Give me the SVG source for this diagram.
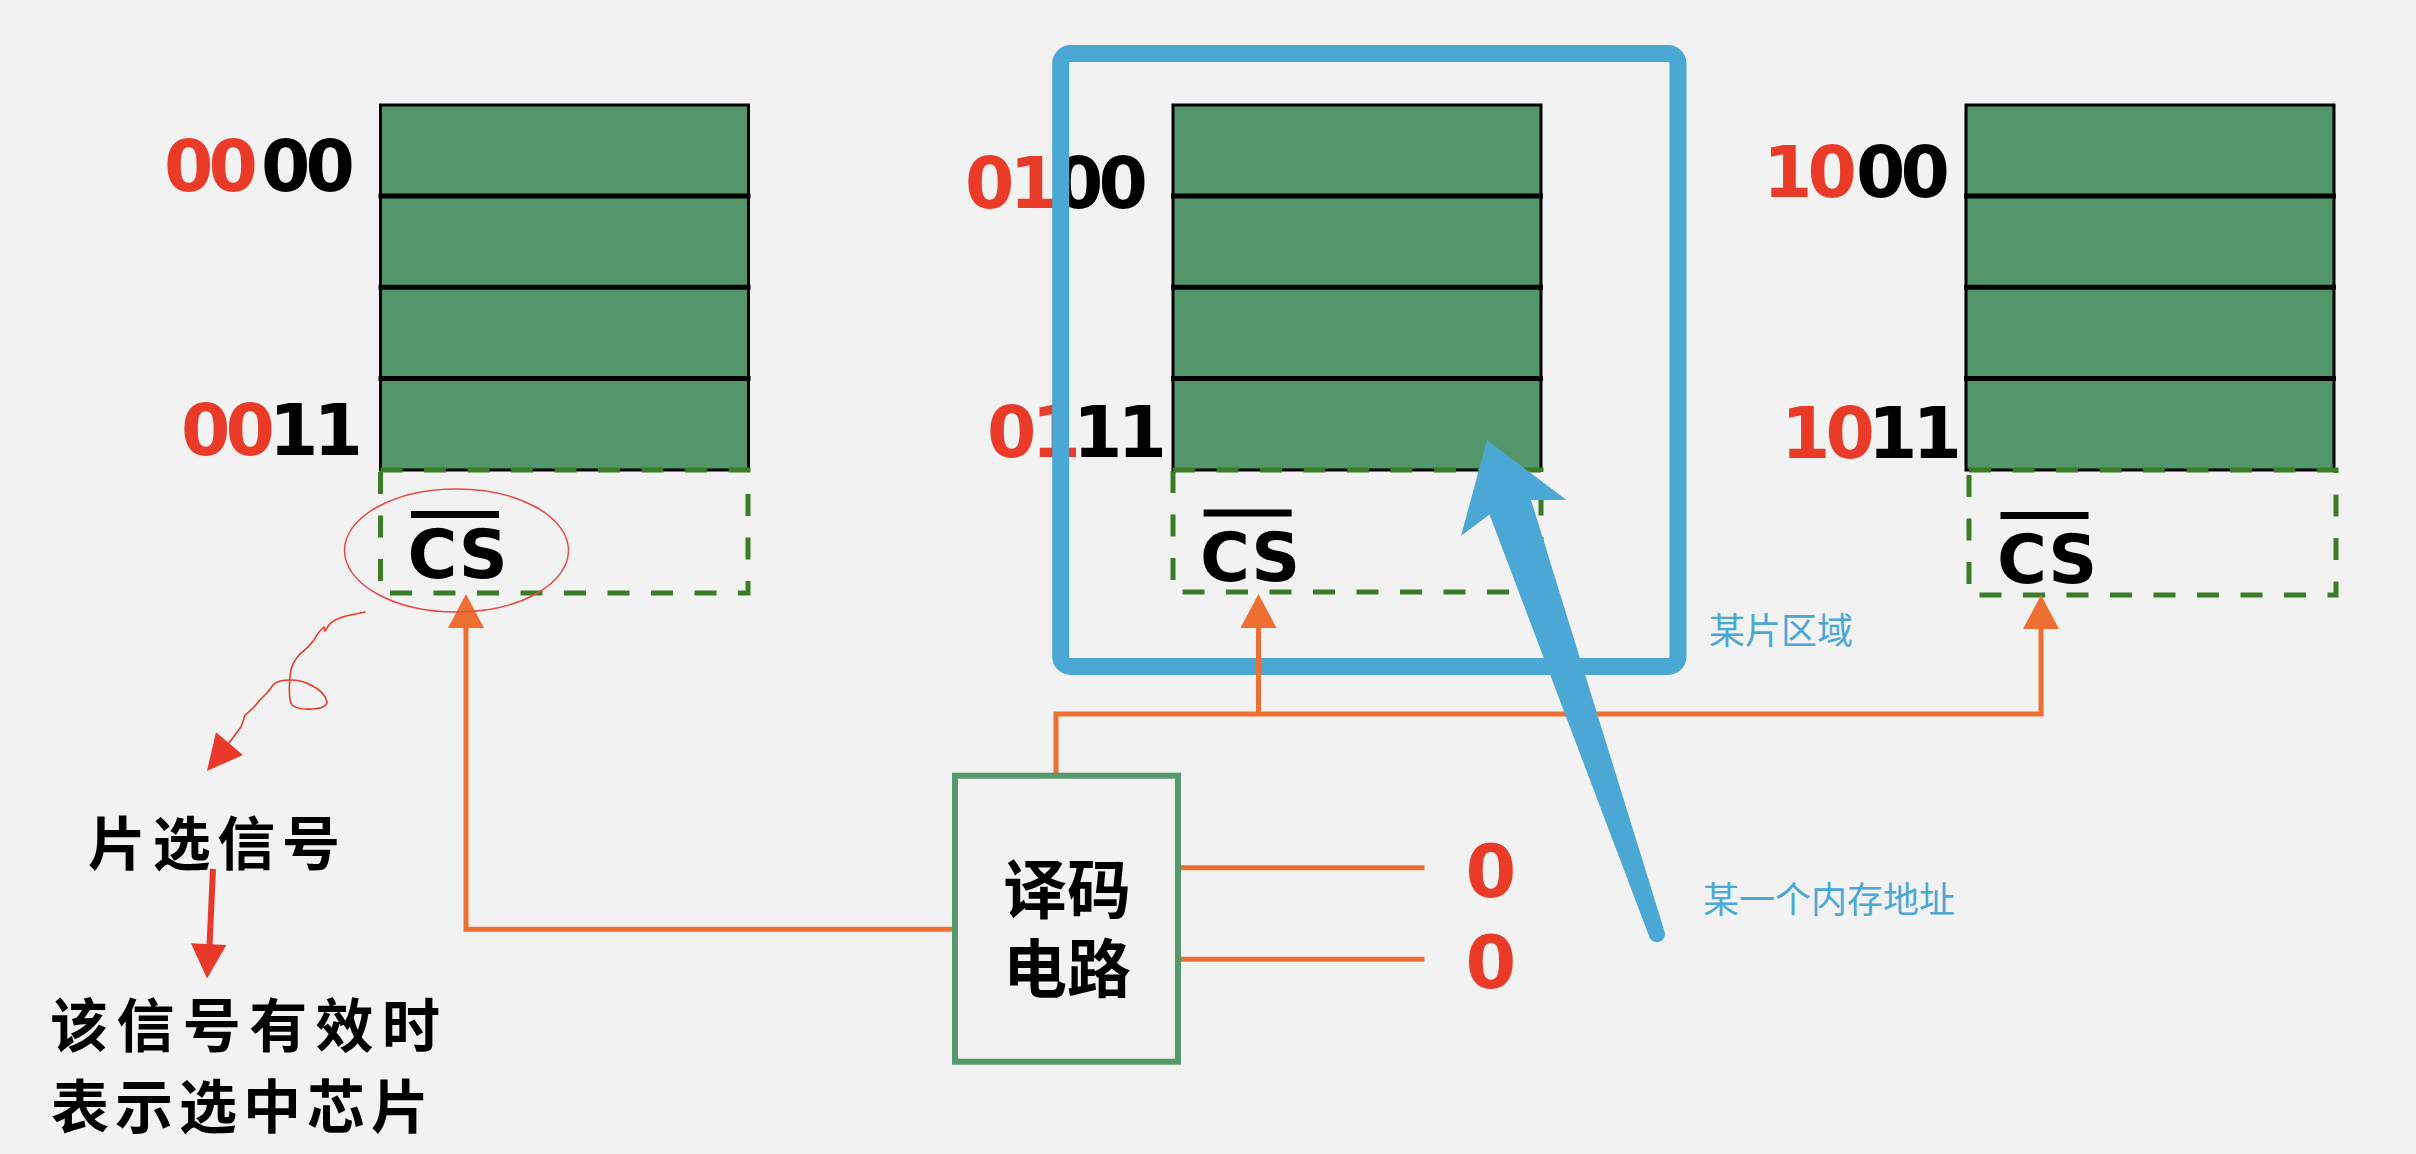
<svg xmlns="http://www.w3.org/2000/svg" width="2416" height="1154" viewBox="0 0 2416 1154">
<style>
.bg{fill:#F2F2F2}
.blk{fill:#53966A;stroke:#000;stroke-width:3}
.row{stroke:#000;stroke-width:5}
.dash{fill:none;stroke:#3B7D27;stroke-width:5;stroke-dasharray:22 21.5}
.addr{font-family:"DejaVu Sans","Liberation Sans",sans-serif;font-weight:bold;font-size:71px;letter-spacing:-5px}
.r{fill:#EA3A28}
.k{fill:#000}
.cs{font-family:"DejaVu Sans","Liberation Sans",sans-serif;font-weight:bold;font-size:68px;fill:#000}
.wire{fill:none;stroke:#ED7031;stroke-width:5}
.dec{fill:none;stroke:#559A6D;stroke-width:6}
.dectxt{font-family:"Noto Sans CJK SC","Noto Sans",sans-serif;font-weight:bold;font-size:64px;fill:#000;text-anchor:middle}
.note{font-family:"Noto Sans CJK SC",sans-serif;font-weight:600;font-size:58px;fill:#000}
.blue{font-family:"Noto Sans CJK SC",sans-serif;font-size:36px;fill:#4BA7D4}
.zero{font-family:"DejaVu Sans","Liberation Sans",sans-serif;font-weight:bold;font-size:73px;fill:#EA3A28;text-anchor:middle}
.redpen{fill:none;stroke:#E8392A;stroke-width:1.6;stroke-linecap:round;stroke-linejoin:round}
</style>
<defs>
<marker id="oa" markerUnits="userSpaceOnUse" markerWidth="34" markerHeight="36" viewBox="0 0 34 36" refX="0" refY="18" orient="auto">
<path d="M0,0 L34,18 L0,36 z" fill="#ED7031"/>
</marker>
<g id="chip">
<rect class="blk" x="0" y="0" width="368" height="365"/>
<line class="row" x1="-2" y1="91" x2="370" y2="91"/>
<line class="row" x1="-2" y1="182.3" x2="370" y2="182.3"/>
<line class="row" x1="-2" y1="273.6" x2="370" y2="273.6"/>
</g>
</defs>
<rect class="bg" x="0" y="0" width="2416" height="1154"/>

<g id="chip-left">
<use href="#chip" x="380.5" y="105"/>
<rect class="dash" x="380.5" y="470" width="367.5" height="123"/>
<text class="addr" y="191"><tspan class="r" x="164">00</tspan><tspan class="k" x="261">00</tspan></text>
<text class="addr" y="455"><tspan class="r" x="181">00</tspan><tspan class="k" x="269">11</tspan></text>
<rect x="411" y="511" width="88" height="7" fill="#000"/>
<text class="cs" x="407.5" y="577.6">CS</text>
</g>

<g id="chip-middle">
<use href="#chip" x="1173" y="105"/>
<rect class="dash" x="1173" y="470" width="368" height="122"/>
<text class="addr" y="207.5"><tspan class="r" x="965">01</tspan><tspan class="k" x="1054">00</tspan></text>
<text class="addr" y="456.5"><tspan class="r" x="987">01</tspan><tspan class="k" x="1073">11</tspan></text>
<rect x="1203.6" y="509.5" width="88" height="7" fill="#000"/>
<text class="cs" x="1200" y="580.5">CS</text>
</g>

<g id="chip-right">
<use href="#chip" x="1966" y="105"/>
<rect class="dash" x="1969" y="470" width="367" height="125"/>
<text class="addr" y="197"><tspan class="r" x="1763">10</tspan><tspan class="k" x="1856">00</tspan></text>
<text class="addr" y="457.5"><tspan class="r" x="1781">10</tspan><tspan class="k" x="1868">11</tspan></text>
<rect x="2000.5" y="512" width="88" height="7" fill="#000"/>
<text class="cs" x="1997" y="583">CS</text>
</g>

<g id="region-box">
<rect x="1060.7" y="53.5" width="617.3" height="613" rx="10" fill="none" stroke="#4BA7D4" stroke-width="17"/>
<text class="blue" x="1709" y="644">某片区域</text>
</g>

<g id="connectors">
<path class="wire" d="M955,929.3 H466 V628" marker-end="url(#oa)"/>
<path class="wire" d="M1056,775 V714 H2041 V629" marker-end="url(#oa)"/>
<path class="wire" d="M1258.5,714 V628" marker-end="url(#oa)"/>
<path class="wire" d="M1178,867.7 H1424.5"/>
<path class="wire" d="M1178,959.3 H1424.5"/>
</g>

<g id="decoder">
<rect class="dec" x="955" y="775.7" width="223" height="286"/>
<text class="dectxt"><tspan x="1067" y="913">译码</tspan><tspan x="1067" y="992">电路</tspan></text>
</g>

<g id="inputs">
<text class="zero" x="1491" y="897">0</text>
<text class="zero" x="1491" y="988">0</text>
</g>

<g id="cs-annotation">
<ellipse cx="456.5" cy="550.5" rx="112" ry="61.5" fill="none" stroke="#E8494A" stroke-width="1.5"/>
<path class="redpen" d="M365,612 L346,616 Q334,619 329,625 L325,631 L324,627 Q318,632 314,640 Q308,648 300,654 Q291,663 290,676 Q288,700 292,705 Q298,710 312,709 Q327,708 327,702 Q325,692 311,685 Q301,680 291,680 Q277,680 273,685 Q270,690 266,694 Q259,700 255,706 Q249,712 245,715 Q243,722 241,727 L229,743"/>
<polygon points="216,732.3 242.9,755 207,771" fill="#E8392A"/>
<text class="note" x="88" y="865" textLength="252" lengthAdjust="spacing">片选信号</text>
<line x1="213" y1="869" x2="209.5" y2="946" stroke="#E8392A" stroke-width="6"/>
<polygon points="191,943.3 226.4,945 207,978.6" fill="#E8392A"/>
<text class="note" x="50" y="1047" textLength="390" lengthAdjust="spacing">该信号有效时</text>
<text class="note" x="51" y="1128" textLength="378" lengthAdjust="spacing">表示选中芯片</text>
</g>

<g id="address-arrow">
<path d="M1487,440 L1566.6,500 L1531,500 L1664.7,932 A8,8 0 0 1 1649,936 L1489.5,514.5 L1461,536 Z" fill="#4BA7D4"/>
<text class="blue" x="1703" y="913">某一个内存地址</text>
</g>
</svg>
